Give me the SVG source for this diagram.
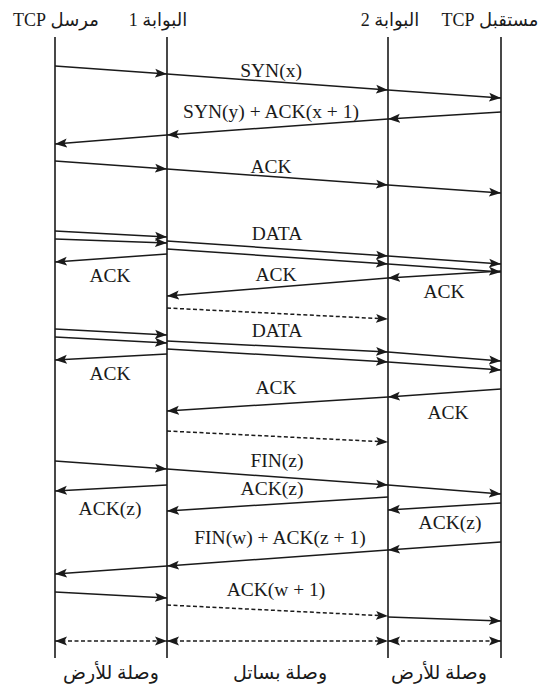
<svg xmlns="http://www.w3.org/2000/svg" width="538" height="686" viewBox="0 0 538 686">
  <style>
    .life { stroke: #1a1a1a; stroke-width: 1.6; fill: none; }
    .msg { stroke: #1a1a1a; stroke-width: 1.5; fill: none; marker-end: url(#head); }
    .dash { stroke-dasharray: 4 2.5; }
    .both { marker-start: url(#head); }
    .lbl { font-family: "Liberation Serif", "DejaVu Serif", serif; font-size: 19.5px; fill: #1a1a1a; text-anchor: middle; }
    .ar { font-family: "Liberation Serif", "DejaVu Sans", serif; font-size: 18px; fill: #1a1a1a; text-anchor: middle; direction: rtl; unicode-bidi: embed; }
    .cap { font-size: 19px; }
  </style>
  <defs>
    <marker id="head" viewBox="0 0 12 10" refX="12" refY="5" markerWidth="12" markerHeight="10" markerUnits="userSpaceOnUse" orient="auto-start-reverse">
      <path d="M0,0.5 L12,5 L0,9.5 L2.5,5 z" fill="#1a1a1a"/>
    </marker>
  </defs>
  <rect width="538" height="686" fill="#ffffff"/>

  <!-- participants: lifeline plus heading -->
  <g id="sender">
    <line class="life" x1="55" y1="37" x2="55" y2="658"/>
    <text class="ar" x="56" y="26" direction="rtl">مرسل TCP</text>
  </g>
  <g id="gateway1">
    <line class="life" x1="167" y1="37" x2="167" y2="658"/>
    <text class="ar" x="158" y="26" direction="rtl">البوابة 1</text>
  </g>
  <g id="gateway2">
    <line class="life" x1="388" y1="37" x2="388" y2="658"/>
    <text class="ar" x="390" y="26" direction="rtl">البوابة 2</text>
  </g>
  <g id="receiver">
    <line class="life" x1="501" y1="37" x2="501" y2="658"/>
    <text class="ar" x="490" y="26" direction="rtl">مستقبل TCP</text>
  </g>

  <!-- message exchange -->
  <g id="connectors">
    <!-- connection set-up -->
    <line class="msg" x1="55" y1="66" x2="167" y2="74"/>
    <line class="msg" x1="167" y1="74" x2="388" y2="90"/>
    <line class="msg" x1="388" y1="90" x2="501" y2="98"/>

    <line class="msg" x1="501" y1="112" x2="388" y2="119"/>
    <line class="msg" x1="388" y1="119" x2="167" y2="135"/>
    <line class="msg" x1="167" y1="135" x2="55" y2="144"/>

    <line class="msg" x1="55" y1="161" x2="167" y2="169"/>
    <line class="msg" x1="167" y1="169" x2="388" y2="185"/>
    <line class="msg" x1="388" y1="185" x2="501" y2="193"/>

    <!-- first data burst -->
    <line class="msg" x1="55" y1="231" x2="167" y2="237"/>
    <line class="msg" x1="55" y1="239" x2="167" y2="243"/>
    <line class="msg" x1="167" y1="241" x2="388" y2="256"/>
    <line class="msg" x1="167" y1="249" x2="388" y2="264"/>
    <line class="msg" x1="388" y1="256" x2="501" y2="264"/>
    <line class="msg" x1="388" y1="264" x2="501" y2="272"/>
    <line class="msg" x1="167" y1="254" x2="55" y2="262"/>
    <line class="msg" x1="501" y1="271" x2="388" y2="278"/>
    <line class="msg" x1="388" y1="278" x2="167" y2="296"/>
    <line class="msg dash" x1="167" y1="308" x2="388" y2="319"/>

    <!-- second data burst -->
    <line class="msg" x1="55" y1="329" x2="167" y2="335"/>
    <line class="msg" x1="55" y1="337" x2="167" y2="343"/>
    <line class="msg" x1="167" y1="341" x2="388" y2="352"/>
    <line class="msg" x1="167" y1="349" x2="388" y2="362"/>
    <line class="msg" x1="388" y1="352" x2="501" y2="361"/>
    <line class="msg" x1="388" y1="362" x2="501" y2="370"/>
    <line class="msg" x1="167" y1="354" x2="55" y2="360"/>
    <line class="msg" x1="501" y1="389" x2="388" y2="397"/>
    <line class="msg" x1="388" y1="397" x2="167" y2="411"/>
    <line class="msg dash" x1="167" y1="431" x2="388" y2="442"/>

    <!-- connection release -->
    <line class="msg" x1="55" y1="461" x2="167" y2="469"/>
    <line class="msg" x1="167" y1="469" x2="388" y2="485"/>
    <line class="msg" x1="388" y1="485" x2="501" y2="494"/>
    <line class="msg" x1="167" y1="485" x2="55" y2="491"/>
    <line class="msg" x1="388" y1="497" x2="167" y2="511"/>
    <line class="msg" x1="501" y1="503" x2="388" y2="510"/>

    <line class="msg" x1="501" y1="542" x2="388" y2="550"/>
    <line class="msg" x1="388" y1="550" x2="167" y2="566"/>
    <line class="msg" x1="167" y1="566" x2="55" y2="574"/>

    <line class="msg" x1="55" y1="592" x2="167" y2="598"/>
    <line class="msg dash" x1="167" y1="605" x2="388" y2="616"/>
    <line class="msg" x1="388" y1="617" x2="501" y2="621"/>

    <!-- link spans -->
    <line class="msg dash both" x1="55" y1="641" x2="167" y2="641"/>
    <line class="msg dash both" x1="167" y1="641" x2="388" y2="641"/>
    <line class="msg dash both" x1="388" y1="641" x2="501" y2="641"/>
  </g>

  <!-- message labels -->
  <g id="labels">
    <text class="lbl" x="271" y="77">SYN(x)</text>
    <text class="lbl" x="271" y="118">SYN(y) + ACK(x + 1)</text>
    <text class="lbl" x="271" y="173">ACK</text>

    <text class="lbl" x="277" y="240">DATA</text>
    <text class="lbl" x="110" y="282">ACK</text>
    <text class="lbl" x="276" y="281">ACK</text>
    <text class="lbl" x="444" y="298">ACK</text>

    <text class="lbl" x="277" y="337">DATA</text>
    <text class="lbl" x="110" y="380">ACK</text>
    <text class="lbl" x="276" y="394">ACK</text>
    <text class="lbl" x="448" y="419">ACK</text>

    <text class="lbl" x="277" y="467">FIN(z)</text>
    <text class="lbl" x="272" y="495">ACK(z)</text>
    <text class="lbl" x="110" y="515">ACK(z)</text>
    <text class="lbl" x="450" y="529">ACK(z)</text>
    <text class="lbl" x="280" y="544">FIN(w) + ACK(z + 1)</text>
    <text class="lbl" x="276" y="596">ACK(w + 1)</text>
  </g>

  <!-- link type captions -->
  <g id="links">
    <text class="ar cap" x="111" y="679" direction="rtl">وصلة للأرض</text>
    <text class="ar cap" x="280" y="679" direction="rtl">وصلة بساتل</text>
    <text class="ar cap" x="439" y="679" direction="rtl">وصلة للأرض</text>
  </g>
</svg>
